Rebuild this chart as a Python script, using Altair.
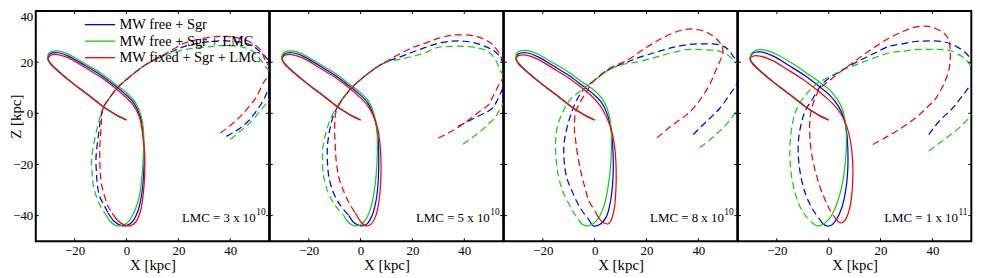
import altair as alt
import pandas as pd

MODELS = ["MW free + Sgr", "MW free + Sgr + LMC", "MW fixed + Sgr + LMC"]
COLORS = ["#0000ff", "#10d010", "#ff0000"]
LMC_BASE = ["LMC = 3 x 10", "LMC = 5 x 10", "LMC = 8 x 10", "LMC = 1 x 10"]
LMC_EXP = ["10", "10", "10", "11"]
X_TICKS = [-20, 0, 20, 40]
Y_TICKS = [40, 20, 0, -20, -40]
X_DOMAIN = [-35, 55]
Y_DOMAIN = [-50, 40]

# shared lower edge of the solid loop (tip -> present end)
LOWER_EDGE = [(-30.3, 21.3), (-29.2, 19.3), (-26, 16.2), (-22, 12.8), (-18, 9.6), (-14, 6.6),
              (-9.5, 3), (-6, 0.6), (-3, -1.2), (0, -2.6)]

# ---------------- panel 1 (LMC = 3e10) ----------------
P1_RED_DASH = [(36.2, -7.7), (40, -4.8), (43.8, -1.3), (47, 2.3), (50, 6.3), (53.4, 12.9), (57, 16.5),
               (54.1, 19.5), (51.6, 24.9), (48, 27.7), (45.2, 28.9), (42, 29.7), (38.8, 30.1), (35.5, 30.1),
               (32.4, 29.8), (27, 28.8), (22.2, 27.4), (15.8, 23.8), (9.4, 20.3), (6.3, 18.3), (1.5, 14.5),
               (-3.3, 10.2), (-7, 5.4), (-9, 2.2), (-9.6, -2), (-9.9, -7), (-10.3, -13), (-10.3, -18.5),
               (-10.1, -23), (-9.7, -27.5), (-8.4, -32.6), (-7.1, -36.4), (-5.5, -39)]
P1_BLUE_DASH = [(38.5, -9), (41, -7.6), (43.8, -5.8), (47, -3), (50, 0.8), (53, 5.5), (55, 10), (57.5, 14),
                (55.5, 19.5), (53.4, 22.3), (50.5, 25), (47.7, 26.8), (44.5, 27.8), (41.3, 28.2), (36, 28.4),
                (32.4, 28.1), (27, 27.3), (22.2, 26.1), (18, 24.4), (15.8, 23.4), (9.4, 20.2), (6.3, 18.3),
                (1.5, 14.5), (-3.3, 10.2), (-7, 5.4), (-9, 2.2), (-10, -2), (-10.6, -7), (-11.4, -13),
                (-11.8, -18.5), (-11.6, -23), (-11.3, -27.5), (-10.3, -32.6), (-8.4, -36.4), (-7.1, -39)]
P1_GREEN_DASH = [(40, -10.2), (42, -8.6), (43.8, -7), (47, -4.3), (50, -1), (53, 2.7), (55, 5.8), (57.5, 10),
                 (55.5, 16), (53.4, 18.5), (50.5, 22.5), (47.7, 24.9), (44.5, 26), (41.3, 26.4), (36, 26.5),
                 (32.4, 26.1), (27, 25.6), (22.2, 24.9), (18, 23.7), (15.8, 23.2), (9.4, 20.1), (6.3, 18.3),
                 (1.5, 14.5), (-3.3, 10.2), (-7, 5.4), (-9, 2.2), (-10.4, -2), (-11.6, -7), (-12.8, -13),
                 (-13.5, -18.5), (-13.3, -23), (-12.9, -27.5), (-11.6, -32.6), (-10, -36.4), (-8.4, -39)]
P1_RED_SOLID = [(-5.5, -39), (-3.5, -41.8), (-1, -43.6), (1.3, -44), (3.5, -42.6), (5.3, -38.5), (6.4, -32),
                (7, -24), (7, -16), (6.2, -8), (5, -1.5), (2.5, 3.3), (-1, 7), (-5, 10.4), (-10, 14.2),
                (-16, 17.9), (-22, 21.5), (-26.5, 23), (-29.2, 22.7)] + LOWER_EDGE
P1_BLUE_SOLID = [(-7.1, -39), (-5, -42), (-2.5, -43.7), (-0.5, -44), (2, -42.7), (4.3, -38.5), (5.8, -32),
                 (6.6, -24), (6.8, -16), (6.4, -8), (5.3, -1.2), (2.9, 3.9), (-0.8, 7.8), (-5, 11.2),
                 (-10, 15), (-16, 18.7), (-22, 22.2), (-26.5, 23.7), (-29.5, 23.2)] + LOWER_EDGE
P1_GREEN_SOLID = [(-8.4, -39), (-6.5, -42), (-4.5, -43.7), (-2.5, -44), (0.3, -42.8), (3, -38.5), (5, -32),
                  (6, -24), (6.5, -16), (6.6, -8), (5.6, -0.9), (3.3, 4.5), (-0.5, 8.5), (-5, 12),
                  (-10, 15.8), (-16, 19.4), (-22, 22.9), (-26.5, 24.4), (-29.8, 23.7)] + LOWER_EDGE

# ---------------- panel 2 (LMC = 5e10) ----------------
P2_RED_DASH = [(30, -9.7), (34, -7.6), (38, -5.2), (42, -2.3), (46, 0.8), (49, 3), (51, 6.5), (53, 10.5),
               (55, 14), (57, 18), (54.5, 21.5), (53.4, 23.6), (51, 26.8), (49, 28.3), (45, 30), (40.1, 30.7),
               (35, 30.5), (29.9, 29.3), (24.5, 27.3), (19.7, 25.6), (14.5, 22.9), (9.6, 20.2), (4.5, 16.8),
               (-3.2, 10.2), (-7.5, 4.6), (-9.5, 0.5), (-10, -5), (-9.8, -12), (-9.4, -18.5), (-8.4, -25),
               (-6.5, -30.5), (-4.2, -35.5), (-2, -39)]
P2_BLUE_DASH = [(37.6, -5.1), (41, -3.4), (45, -1.3), (49, 0.7), (51, 2.2), (52.4, 4.5), (54.5, 9), (57, 14),
                (55, 19.5), (53.5, 22.5), (51, 24.8), (49, 25.8), (45, 27.3), (40, 28.2), (35, 28.2),
                (29.9, 27.4), (24.5, 25.6), (19.7, 23.8), (14.5, 21.8), (9.6, 20), (4.5, 16.8), (-3.2, 10.2),
                (-7.8, 4.4), (-10.5, -1), (-12, -7), (-12.8, -13), (-12.8, -18.5), (-12.2, -25), (-10.5, -31),
                (-7.8, -36), (-4.5, -40)]
P2_GREEN_DASH = [(39.5, -12.1), (43, -9.5), (46.5, -6.8), (49, -4.5), (51.7, -1.8), (53, 0.2), (55, 4), (57, 9),
                 (55.5, 14), (54, 16.5), (52, 21), (49, 24.3), (45, 25.6), (40, 26.2), (35, 26.2), (29.9, 25.8),
                 (24.5, 23.6), (19.7, 22.2), (14.5, 21), (9.6, 19.8), (4.5, 16.8), (-3.2, 10.2), (-8.3, 4),
                 (-11.5, -2), (-13.5, -8), (-14.5, -13), (-14.7, -18.5), (-14.2, -25), (-12.5, -31),
                 (-9.8, -36), (-6.5, -40)]
P2_RED_SOLID = [(-2, -39), (0, -42.3), (2, -44), (4, -43.4), (5.7, -40.5), (7, -35), (7.7, -28), (7.9, -20),
                (7.5, -12), (6.5, -5.5), (4.7, -0.5), (2.3, 3.6), (-1, 7), (-5, 10.4), (-10, 14.2), (-16, 17.9),
                (-22, 21.5), (-26.5, 23), (-29.2, 22.7)] + LOWER_EDGE
P2_BLUE_SOLID = [(-4.5, -40), (-2.5, -42.8), (0, -44), (2.2, -43.5), (4.2, -40.5), (5.8, -35), (6.7, -28),
                 (7, -20), (6.9, -12), (6.2, -5.5), (4.9, -0.4), (2.7, 4.2), (-0.8, 7.8), (-5, 11.2), (-10, 15),
                 (-16, 18.7), (-22, 22.3), (-26.5, 23.7), (-29.5, 23.1)] + LOWER_EDGE
P2_GREEN_SOLID = [(-6.5, -40), (-4.5, -42.8), (-2.3, -44), (0, -43.6), (2.3, -41), (4.3, -35.5), (5.6, -28),
                  (6.3, -20), (6.5, -12), (6.2, -5.5), (5.2, -0.2), (3.1, 4.7), (-0.5, 8.5), (-5, 12),
                  (-10, 15.8), (-16, 19.4), (-22, 23), (-26.5, 24.4), (-29.8, 23.6)] + LOWER_EDGE

# ---------------- panel 3 (LMC = 8e10) ----------------
P3_RED_DASH = [(24, -9.6), (27.8, -6.4), (31.5, -3.5), (35.4, -0.6), (38.5, 2.5), (41.8, 7), (44.5, 11.5),
               (46.9, 17.2), (48.8, 21.5), (49.5, 23.6), (49.2, 26), (48.2, 27.8), (46, 30), (43, 31.8),
               (40, 32.7), (37, 33), (34, 32.7), (30, 31.3), (26, 29.4), (22.7, 27.5), (18, 24.5),
               (12.5, 20.7), (6.1, 17.8), (-0.2, 12.8), (-2.9, 8.9), (-5.5, 4.5), (-7.3, 0.6), (-7.8, -5.8),
               (-7.4, -10), (-6.8, -14.8), (-5.9, -20), (-4.8, -25), (-3.6, -29.6), (-2.3, -34), (0.3, -38.5)]
P3_BLUE_DASH = [(38, -8.3), (40.5, -5.8), (43.1, -3.2), (45.7, -0.7), (48.2, 1.9), (51.5, 6.5), (54.5, 10.9),
                (57.5, 16), (55.5, 20.5), (53.9, 21.7), (51.5, 25), (48.2, 26.8), (42, 27.2), (35.4, 26.8),
                (29, 25.5), (22.7, 23.6), (16, 21.5), (12.5, 20), (6.1, 17.5), (-0.2, 12.8), (-4.1, 9.6),
                (-7, 5), (-8.8, 0.6), (-10.5, -5), (-11.7, -11), (-11.9, -16), (-11.5, -21.2), (-10.5, -26),
                (-8.8, -30.2), (-7, -34.3), (-5, -37.9), (-2.4, -41.3)]
P3_GREEN_DASH = [(40.5, -13.4), (44.5, -10.3), (48.2, -7), (51.5, -3.5), (54.5, 0.6), (57, 5), (57.5, 12),
                 (55.5, 18.5), (53.9, 20.4), (51.5, 22.7), (48.2, 24.3), (42, 24.9), (35.4, 24.9), (29, 23.5),
                 (22.7, 21.7), (16, 20), (12.5, 19.5), (6.1, 17.3), (-0.2, 12.8), (-4.5, 9.5), (-7.9, 6.8),
                 (-10.1, 4.5), (-12.5, 0), (-14.2, -4.5), (-14.9, -8.3), (-15.1, -13), (-14.9, -17.2),
                 (-14.5, -21.5), (-13.6, -26.2), (-12.2, -30.8), (-10.1, -35.1), (-8.3, -38.5), (-6.3, -41.5)]
P3_RED_SOLID = [(0.3, -38.5), (2, -41.5), (3.8, -43), (5.3, -43.2), (6.5, -41.5), (7.6, -37), (8.2, -30),
                (8.3, -22), (7.8, -14), (6.6, -7), (4.6, -1.5), (2.1, 3), (-1, 6.6), (-5, 10), (-10, 13.8),
                (-16, 17.6), (-22, 21.2), (-26.5, 22.8), (-29.2, 22.6)] + LOWER_EDGE
P3_BLUE_SOLID = [(-2.4, -41.3), (-1.2, -43.3), (-0.5, -44), (2, -43.5), (4.5, -40.5), (6, -35), (6.9, -28),
                 (7.2, -20), (6.9, -12), (6.2, -5.5), (4.9, -0.4), (2.7, 4.2), (-0.8, 7.8), (-5, 11.1),
                 (-10, 14.9), (-16, 18.6), (-22, 22.2), (-26.5, 23.7), (-29.5, 23.1)] + LOWER_EDGE
P3_GREEN_SOLID = [(-6.3, -41.5), (-4.8, -43.4), (-3, -44), (-1, -43.5), (1.5, -41), (3.8, -35.5), (5.3, -28),
                  (6.2, -20), (6.5, -12), (6.3, -5.5), (5.4, 0), (3.4, 5), (-0.2, 9), (-5, 12.4), (-10, 16.1),
                  (-16, 19.7), (-22, 23.2), (-26.5, 24.6), (-29.8, 23.8)] + LOWER_EDGE

# ---------------- panel 4 (LMC = 1e11) ----------------
P4_RED_DASH = [(17, -12.2), (21.5, -9.7), (25.9, -7.1), (30.5, -4), (34.8, -0.7), (38.2, 2.6), (41.2, 5.7),
               (43.7, 10), (45.7, 14.7), (46.7, 19), (46.9, 23.6), (46.3, 28.7), (44.5, 31.3), (41.2, 33.2),
               (38.5, 34), (36.1, 34.1), (32, 33.4), (28.4, 31.9), (23, 29.3), (18.2, 26.2), (13, 22.6),
               (9.3, 19.8), (4.2, 16), (0.5, 13), (-3.4, 9.6), (-5.4, 5.5), (-6.6, 1.9), (-7.3, -3),
               (-7.3, -8.3), (-6.9, -13.5), (-6.1, -18.5), (-4.9, -23.6), (-3.4, -28.7), (-1.6, -33.3),
               (0.4, -37.7), (2.9, -41.5)]
P4_BLUE_DASH = [(38.6, -8.3), (41, -5), (43.7, -1.9), (46.5, 0.7), (48.8, 3.2), (51.5, 6.8), (54.5, 10.9),
                (57.5, 16), (55.5, 20.5), (54.5, 21.7), (53, 23.5), (51.3, 24.9), (47.5, 27), (43.7, 28.1),
                (38.6, 28.3), (33.5, 28.1), (28.4, 27.2), (23.3, 26.2), (17, 23.2), (10.6, 20), (4.2, 16.3),
                (-2.2, 11.8), (-6, 6), (-9.2, 0.6), (-10.8, -5), (-11.7, -11), (-11.7, -17), (-11.1, -22.5),
                (-10, -28), (-8.5, -32.7), (-6.2, -37.5), (-3.4, -41.6)]
P4_GREEN_DASH = [(38.6, -14.7), (41, -12.9), (43.7, -10.9), (46.2, -9), (48.8, -7), (51.5, -4.5), (54.5, -1.3),
                 (57.5, 4), (57.5, 14), (55.5, 18), (54.5, 19.1), (53, 20.8), (51.3, 22.3), (47.5, 24.3),
                 (43.7, 24.9), (38.6, 25), (33.5, 24.9), (28.4, 24.3), (23.3, 23.6), (17, 21.5), (11.8, 19.5),
                 (6, 17.2), (1, 14.7), (-4.7, 11.5), (-9, 7), (-12.3, 1.9), (-14, -4), (-14.9, -12.1),
                 (-14.9, -18.5), (-14.3, -24.9), (-13, -31), (-11.1, -36.4), (-8.7, -40.3), (-6.1, -43)]
P4_RED_SOLID = [(2.9, -41.5), (4.3, -42.8), (5.5, -42.6), (6.8, -41), (8, -37.5), (8.9, -32), (9.3, -25),
                (9.2, -18), (8.5, -11.5), (7.1, -5.5), (4.9, -0.5), (2, 3.3), (-1.5, 6.6), (-5, 9.5),
                (-10, 13.3), (-16, 17.2), (-22, 20.8), (-26.5, 22.4), (-29.2, 22.4)] + LOWER_EDGE
P4_BLUE_SOLID = [(-3.4, -41.6), (-2.2, -43.2), (-0.8, -44), (1, -43.8), (3, -41.5), (5, -37), (6.5, -30.5),
                 (7.3, -23), (7.4, -15), (7, -8), (5.9, -2), (3.6, 3), (0, 7.5), (-4, 10.8), (-9, 14.6),
                 (-15, 18.5), (-21, 22.2), (-26, 24), (-29.3, 23.5)] + LOWER_EDGE
P4_GREEN_SOLID = [(-6.1, -43), (-4.5, -44), (-2.5, -43.6), (0, -41.5), (2.5, -37), (4.6, -30.5), (6, -23),
                  (6.7, -15), (6.8, -8), (6.2, -2), (4.5, 3.5), (1, 8.5), (-3, 11.8), (-8, 15.4), (-14, 19.5),
                  (-20, 23), (-25, 24.8), (-28.3, 24.6), (-30, 23)] + LOWER_EDGE

CURVES = {
    (0, 0, "dash"): P1_BLUE_DASH, (0, 1, "dash"): P1_GREEN_DASH, (0, 2, "dash"): P1_RED_DASH,
    (0, 0, "solid"): P1_BLUE_SOLID, (0, 1, "solid"): P1_GREEN_SOLID, (0, 2, "solid"): P1_RED_SOLID,
    (1, 0, "dash"): P2_BLUE_DASH, (1, 1, "dash"): P2_GREEN_DASH, (1, 2, "dash"): P2_RED_DASH,
    (1, 0, "solid"): P2_BLUE_SOLID, (1, 1, "solid"): P2_GREEN_SOLID, (1, 2, "solid"): P2_RED_SOLID,
    (2, 0, "dash"): P3_BLUE_DASH, (2, 1, "dash"): P3_GREEN_DASH, (2, 2, "dash"): P3_RED_DASH,
    (2, 0, "solid"): P3_BLUE_SOLID, (2, 1, "solid"): P3_GREEN_SOLID, (2, 2, "solid"): P3_RED_SOLID,
    (3, 0, "dash"): P4_BLUE_DASH, (3, 1, "dash"): P4_GREEN_DASH, (3, 2, "dash"): P4_RED_DASH,
    (3, 0, "solid"): P4_BLUE_SOLID, (3, 1, "solid"): P4_GREEN_SOLID, (3, 2, "solid"): P4_RED_SOLID,
}

rows = []
for (p, m, s), pts in CURVES.items():
    for i, (x, y) in enumerate(pts):
        rows.append({"panel": p, "m": m, "style": s, "i": i, "x": x, "y": y})
df = pd.DataFrame(rows)

W, H = 235.3, 232
FONT = "Liberation Serif, Times New Roman, serif"
xs = alt.Scale(domain=X_DOMAIN, nice=False, zero=False)
ys = alt.Scale(domain=Y_DOMAIN, nice=False, zero=False)
x_axis = alt.Axis(values=X_TICKS, format="d", ticks=False, domain=False, grid=False,
                  labelPadding=3, title="X [kpc]", titlePadding=1)
y_axis = alt.Axis(values=Y_TICKS, format="d", ticks=False, domain=False, grid=False,
                  labelPadding=3, labelFlush=True, title="Z [kpc]", titleX=-20, titleY=106,
                  titleAngle=270, titleAlign="center", titleBaseline="middle")


def panel(p):
    ya = y_axis if p == 0 else None
    X = alt.X("x:Q", scale=xs, axis=x_axis)
    Y = alt.Y("y:Q", scale=ys, axis=ya)
    layers = []
    for m in range(3):
        for s in ("dash", "solid"):
            kw = dict(clip=True, strokeWidth=1.25, color=COLORS[m], interpolate="catmull-rom")
            if s == "dash":
                kw["strokeDash"] = [7, 4]
            layers.append(
                alt.Chart(df)
                .transform_filter(f"datum.panel == {p} && datum.m == {m} && datum.style == '{s}'")
                .mark_line(**kw)
                .encode(x=X, y=Y, order="i:Q")
            )
    # inward ticks (MATLAB box style)
    xt = pd.DataFrame({"x": X_TICKS})
    yt = pd.DataFrame({"y": Y_TICKS[1:]})
    layers.append(alt.Chart(xt).mark_rule(color="black", strokeWidth=1)
                  .encode(x=X, y=alt.value(H), y2=alt.value(H - 3)))
    layers.append(alt.Chart(xt).mark_rule(color="black", strokeWidth=1)
                  .encode(x=X, y=alt.value(0), y2=alt.value(3)))
    layers.append(alt.Chart(yt).mark_rule(color="black", strokeWidth=1)
                  .encode(y=Y, x=alt.value(0), x2=alt.value(3)))
    layers.append(alt.Chart(yt).mark_rule(color="black", strokeWidth=1)
                  .encode(y=Y, x=alt.value(W), x2=alt.value(W - 3)))
    # LMC mass annotation
    layers.append(alt.Chart(pd.DataFrame({"t": [LMC_BASE[p]]}))
                  .mark_text(align="right", baseline="alphabetic", font=FONT, fontSize=13, color="black")
                  .encode(text="t:N", x=alt.value(W - 13.5), y=alt.value(213)))
    layers.append(alt.Chart(pd.DataFrame({"t": [LMC_EXP[p]]}))
                  .mark_text(align="left", baseline="alphabetic", font=FONT, fontSize=9.5, color="black")
                  .encode(text="t:N", x=alt.value(W - 13), y=alt.value(206)))
    # legend (panel 1 only)
    if p == 0:
        rows_y = [13.7, 30.3, 47]
        for m in range(3):
            layers.append(alt.Chart(pd.DataFrame({"t": [MODELS[m]]}))
                          .mark_rule(color=COLORS[m], strokeWidth=1.3)
                          .encode(x=alt.value(49.5), x2=alt.value(80), y=alt.value(rows_y[m])))
            layers.append(alt.Chart(pd.DataFrame({"t": [MODELS[m]]}))
                          .mark_text(align="left", baseline="middle", font=FONT, fontSize=14.5, color="black")
                          .encode(text="t:N", x=alt.value(84.5), y=alt.value(rows_y[m] + 0.5)))
    return alt.layer(*layers).properties(width=W, height=H)


chart = (
    alt.hconcat(*[panel(p) for p in range(4)], spacing=0, bounds="flush")
    .properties(padding={"left": 0, "top": 0, "right": 0, "bottom": 0})
    .configure_view(stroke="black", strokeWidth=2)
    .configure_axis(labelFont=FONT, titleFont=FONT, labelFontSize=13, titleFontSize=15,
                    labelColor="black", titleColor="black", titleFontWeight="normal")
)

chart.save("out.html", embed_options={"renderer": "svg", "actions": False})
